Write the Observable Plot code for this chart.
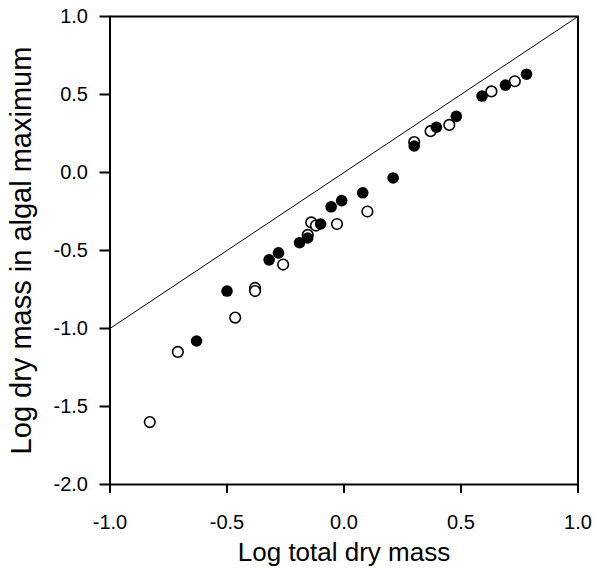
<!DOCTYPE html>
<html>
<head>
<meta charset="utf-8">
<script src="https://cdn.jsdelivr.net/npm/d3@7"></script>
<script src="https://cdn.jsdelivr.net/npm/@observablehq/plot@0.6"></script>
<style>
  html, body { margin: 0; padding: 0; background: #fff; }
  #chart { width: 595px; height: 575px; }
</style>
</head>
<body>
<div id="chart"></div>
<script>
// Open circles
const openX = [-0.83, -0.71, -0.465, -0.38, -0.38, -0.26, -0.155, -0.14, -0.12, -0.03, 0.10, 0.30, 0.37, 0.45, 0.63, 0.73];
const openY = [-1.60, -1.15, -0.93, -0.74, -0.76, -0.59, -0.40, -0.32, -0.34, -0.33, -0.25, 0.195, 0.265, 0.305, 0.52, 0.585];
// Filled circles
const filledX = [-0.63, -0.50, -0.32, -0.28, -0.19, -0.155, -0.10, -0.055, -0.01, 0.08, 0.21, 0.30, 0.395, 0.48, 0.59, 0.69, 0.78];
const filledY = [-1.08, -0.76, -0.56, -0.515, -0.45, -0.42, -0.33, -0.22, -0.18, -0.13, -0.035, 0.17, 0.29, 0.36, 0.49, 0.56, 0.63];
// 1:1 line
const lineX = [-1, 1];
const lineY = [-1, 1];
// Ticks
const xTicks = [-1.0, -0.5, 0.0, 0.5, 1.0];
const yTicks = [-2.0, -1.5, -1.0, -0.5, 0.0, 0.5, 1.0];
const xTitle = "Log total dry mass";
const yTitle = "Log dry mass in algal maximum";

const openData = openX.map((x, i) => ({x, y: openY[i]}));
const filledData = filledX.map((x, i) => ({x, y: filledY[i]}));
const lineData = lineX.map((x, i) => ({x, y: lineY[i]}));
const fmt = d => d.toFixed(1);

const chart = Plot.plot({
  width: 595,
  height: 575,
  marginLeft: 109.5,
  marginRight: 17.5,
  marginTop: 16,
  marginBottom: 91,
  style: { fontFamily: "'Liberation Sans', Arial, sans-serif", background: "#fff", color: "#000" },
  x: { domain: [-1, 1] },
  y: { domain: [-2, 1] },
  marks: [
    Plot.line(lineData, { x: "x", y: "y", stroke: "#000", strokeWidth: 1, clip: true }),
    Plot.dot(openData, { x: "x", y: "y", r: 5.3, fill: "#fff", stroke: "#000", strokeWidth: 1.6 }),
    Plot.dot(filledData, { x: "x", y: "y", r: 5.8, fill: "#000", stroke: "none" }),
    Plot.frame({ stroke: "#000", strokeWidth: 2 }),
    Plot.axisX({ ticks: xTicks, tickFormat: fmt, tickSize: 9, tickPadding: 21, strokeWidth: 2, fontSize: 20, label: null }),
    Plot.axisY({ ticks: yTicks, tickFormat: fmt, tickSize: 10, tickPadding: 12, strokeWidth: 2, fontSize: 20, label: null }),
    Plot.text([xTitle], { frameAnchor: "bottom", dy: 76, fontSize: 26, fill: "#000", textAnchor: "middle" }),
    Plot.text([yTitle], { frameAnchor: "left", dx: -88, rotate: -90, fontSize: 29, fill: "#000", textAnchor: "middle" })
  ]
});
document.getElementById("chart").appendChild(chart);
</script>
</body>
</html>
